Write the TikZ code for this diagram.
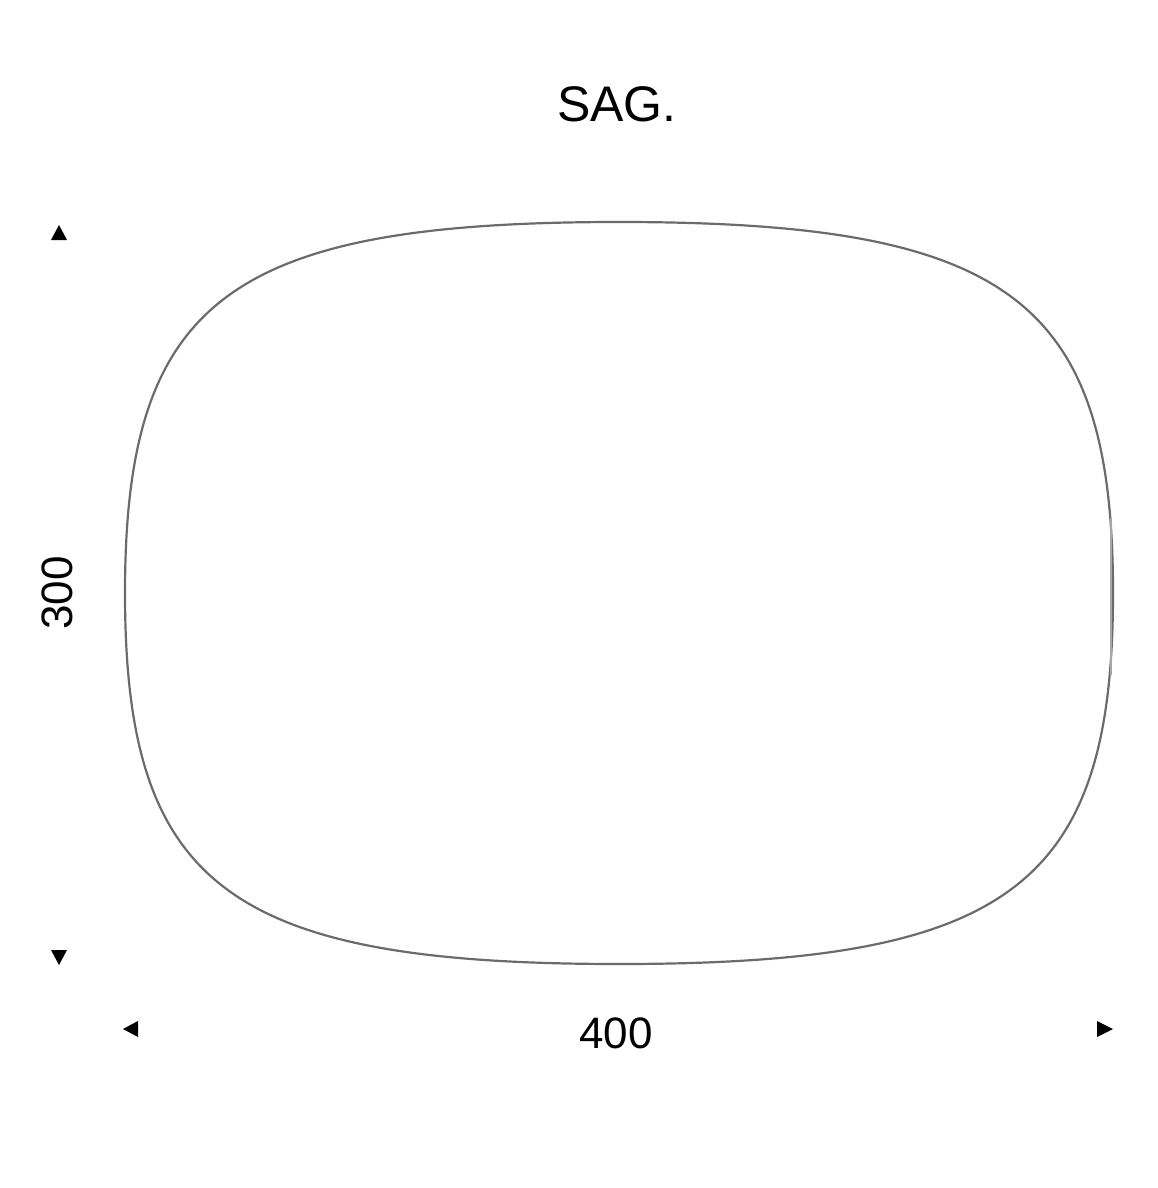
\documentclass[tikz,border=0pt]{standalone}
\usepackage{fontspec}
\setmainfont{Liberation Sans}
\begin{document}
\begin{tikzpicture}[x=1pt,y=-1pt,
  outline/.style={draw=black!58,line width=2.2pt},
  tip/.style={fill=black},
  lbl/.style={font=\fontsize{44}{50}\selectfont,inner sep=0pt}]
\useasboundingbox (0,0) rectangle (1158,1188);
% superellipse-like outline
\def\cx{619}\def\cy{593}\def\ra{494}\def\rb{371}\def\k{0.79}
\coordinate (E) at (\cx+\ra,\cy);
\coordinate (S) at (\cx,\cy+\rb);
\coordinate (W) at (\cx-\ra,\cy);
\coordinate (N) at (\cx,\cy-\rb);
\draw[outline] (E)
  .. controls (\cx+\ra,\cy+\k*\rb) and (\cx+\k*\ra,\cy+\rb) .. (S)
  .. controls (\cx-\k*\ra,\cy+\rb) and (\cx-\ra,\cy+\k*\rb) .. (W)
  .. controls (\cx-\ra,\cy-\k*\rb) and (\cx-\k*\ra,\cy-\rb) .. (N)
  .. controls (\cx+\k*\ra,\cy-\rb) and (\cx+\ra,\cy-\k*\rb) .. (E) -- cycle;
\draw[black!35,line width=2pt] (1111,518) -- (1111,675);
% title and labels
\node[font=\fontsize{50}{56}\selectfont,inner sep=0pt] (title) at (617,104) {SAG.};
\node[lbl] (w) at (616,1033) {400};
\node[lbl,rotate=90] (h) at (57,593) {300};
% dimension arrow tips
\fill[tip] (59,225) -- (67,240) -- (51,240) -- cycle;
\fill[tip] (59,965) -- (67,950) -- (51,950) -- cycle;
\fill[tip] (123,1029) -- (138,1021) -- (138,1037) -- cycle;
\fill[tip] (1113,1029) -- (1097,1021) -- (1097,1037) -- cycle;
\end{tikzpicture}
\end{document}
